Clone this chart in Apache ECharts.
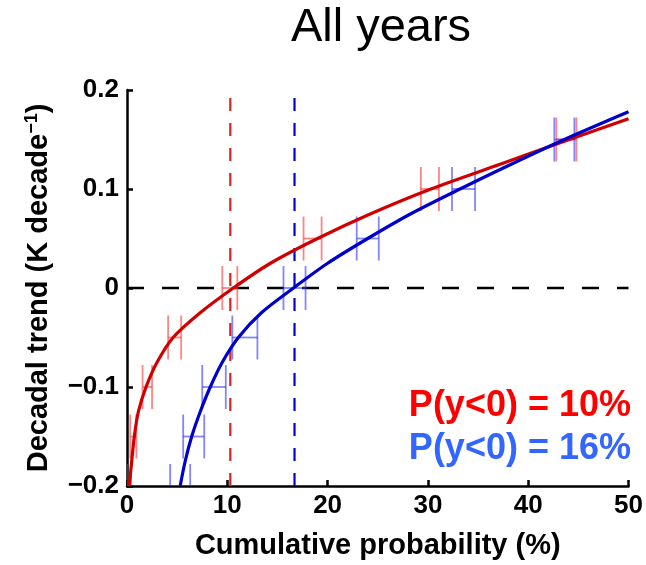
<!DOCTYPE html>
<html>
<head>
<meta charset="utf-8">
<script src="https://cdn.jsdelivr.net/npm/echarts@6/dist/echarts.min.js"></script>
<style>
html, body { margin: 0; padding: 0; background: #fff; }
#main { width: 646px; height: 565px; }
</style>
</head>
<body>
<div id="main"></div>
<script>
// fitted curves, [cumulative probability %, trend]
var redCurve = [[0.23, -0.2], [0.47, -0.175], [0.73, -0.15], [1.13, -0.125], [1.9, -0.1],
  [3.0, -0.075], [4.6, -0.05], [7.3, -0.025], [10.6, 0], [14.3, 0.025], [19.0, 0.05],
  [24.3, 0.075], [30.3, 0.1], [37.2, 0.125], [44.1, 0.15], [50, 0.171]];
var blueCurve = [[5.3, -0.2], [5.8, -0.175], [6.45, -0.15], [7.3, -0.125], [8.3, -0.1],
  [9.5, -0.075], [11.1, -0.05], [13.4, -0.025], [16.6, 0], [20.0, 0.025], [24.0, 0.05],
  [28.3, 0.075], [33.2, 0.1], [38.3, 0.125], [43.6, 0.15], [50, 0.178]];

// horizontal error bars: trend level, left and right ends
var barLevels = [-0.2, -0.15, -0.1, -0.05, 0, 0.05, 0.1, 0.15];
var redLo = [0.0, 0.32, 1.55, 4.1, 9.5, 17.6, 29.3, 42.8];
var redHi = [0.4, 0.93, 2.5, 5.4, 11.0, 19.4, 31.1, 44.8];
var blueLo = [4.3, 5.6, 7.5, 10.5, 15.6, 22.9, 32.4, 42.6];
var blueHi = [6.3, 7.7, 9.85, 13.0, 17.8, 25.1, 34.7, 44.6];

// where each curve crosses zero (dashed verticals)
var redCut = 10.3;
var blueCut = 16.7;

var titleText = 'All years';
var redLabel = 'P(y<0) = 10%';
var blueLabel = 'P(y<0) = 16%';

var FONT = '"Liberation Sans", Arial, Helvetica, sans-serif';

function bars(lo, hi) {
  var out = [];
  for (var i = 0; i < barLevels.length; i++) {
    out.push([lo[i], hi[i], barLevels[i]]);
  }
  return out;
}

function errBar(color) {
  return function (params, api) {
    var a = api.coord([api.value(0), api.value(2)]);
    var b = api.coord([api.value(1), api.value(2)]);
    var h = 22;
    var st = { stroke: color, lineWidth: 1.8 };
    return {
      type: 'group',
      children: [
        { type: 'line', shape: { x1: a[0], y1: a[1], x2: b[0], y2: b[1] }, style: st },
        { type: 'line', shape: { x1: a[0], y1: a[1] - h, x2: a[0], y2: a[1] + h }, style: st },
        { type: 'line', shape: { x1: b[0], y1: b[1] - h, x2: b[0], y2: b[1] + h }, style: st }
      ]
    };
  };
}

function fmtY(v) {
  if (Math.abs(v) < 1e-9) return '0';
  var s = Math.abs(v).toFixed(1);
  return v < 0 ? '\u2212' + s : s;
}

var myChart = echarts.init(document.getElementById('main'));

var option = {
  animation: false,
  grid: { left: 127, right: 17, top: 90, bottom: 78 },
  xAxis: {
    type: 'value',
    min: 0,
    max: 50,
    interval: 10,
    name: 'Cumulative probability (%)',
    nameLocation: 'middle',
    nameGap: 45,
    nameTextStyle: { fontFamily: FONT, fontWeight: 'bold', fontSize: 29, color: '#000' },
    axisLine: { show: true, onZero: false, lineStyle: { color: '#000', width: 2.5 } },
    axisTick: { show: true, inside: true, length: 6, lineStyle: { color: '#000', width: 2.5 } },
    axisLabel: { fontFamily: FONT, fontWeight: 'bold', fontSize: 26, color: '#000', margin: 7 },
    splitLine: { show: false }
  },
  yAxis: {
    type: 'value',
    min: -0.2,
    max: 0.2,
    interval: 0.1,
    name: '{a|Decadal trend (K decade}{s|\u22121}{a|)}',
    nameLocation: 'middle',
    nameRotate: 90,
    nameGap: 72,
    nameTextStyle: {
      rich: {
        a: { fontFamily: FONT, fontWeight: 'bold', fontSize: 29, color: '#000', lineHeight: 32 },
        s: { fontFamily: FONT, fontWeight: 'bold', fontSize: 18, color: '#000', lineHeight: 32, verticalAlign: 'top', padding: [0, 0, 15, 0] }
      }
    },
    axisLine: { show: true, onZero: false, lineStyle: { color: '#000', width: 2.5 } },
    axisTick: { show: true, inside: true, length: 6, lineStyle: { color: '#000', width: 2.5 } },
    axisLabel: { fontFamily: FONT, fontWeight: 'bold', fontSize: 26, color: '#000', margin: 8, formatter: fmtY },
    splitLine: { show: false }
  },
  graphic: [
    {
      type: 'text', x: 381, y: 28,
      style: { text: titleText, font: '47px ' + FONT, fill: '#000', align: 'center', verticalAlign: 'middle' }
    },
    {
      type: 'text', x: 631, y: 406, z: 100,
      style: { text: redLabel, font: 'bold 36px ' + FONT, fill: '#ff0000', align: 'right', verticalAlign: 'middle' }
    },
    {
      type: 'text', x: 631, y: 449, z: 100,
      style: { text: blueLabel, font: 'bold 36px ' + FONT, fill: '#3366ff', align: 'right', verticalAlign: 'middle' }
    }
  ],
  series: [
    {
      type: 'line',
      data: [[0, 0], [50, 0]],
      symbol: 'none',
      z: 1,
      lineStyle: { color: '#000', width: 2.5, type: [17, 18] }
    },
    {
      type: 'line',
      data: [[redCut, -0.2], [redCut, 0.2]],
      symbol: 'none',
      z: 2,
      lineStyle: { color: '#dd2222', width: 2.2, type: [13, 12] }
    },
    {
      type: 'line',
      data: [[blueCut, -0.2], [blueCut, 0.2]],
      symbol: 'none',
      z: 2,
      lineStyle: { color: '#0000dd', width: 2.2, type: [13, 12] }
    },
    {
      type: 'custom',
      data: bars(redLo, redHi),
      encode: { x: [0, 1], y: 2 },
      clip: true,
      z: 3,
      renderItem: errBar('rgba(255, 50, 50, 0.6)')
    },
    {
      type: 'custom',
      data: bars(blueLo, blueHi),
      encode: { x: [0, 1], y: 2 },
      clip: true,
      z: 3,
      renderItem: errBar('rgba(50, 50, 255, 0.6)')
    },
    {
      type: 'line',
      data: redCurve,
      symbol: 'none',
      smooth: 0.3,
      z: 4,
      lineStyle: { color: '#d00000', width: 3.2 }
    },
    {
      type: 'line',
      data: blueCurve,
      symbol: 'none',
      smooth: 0.3,
      z: 5,
      lineStyle: { color: '#0000cc', width: 3.2 }
    }
  ]
};

myChart.setOption(option);
</script>
</body>
</html>
